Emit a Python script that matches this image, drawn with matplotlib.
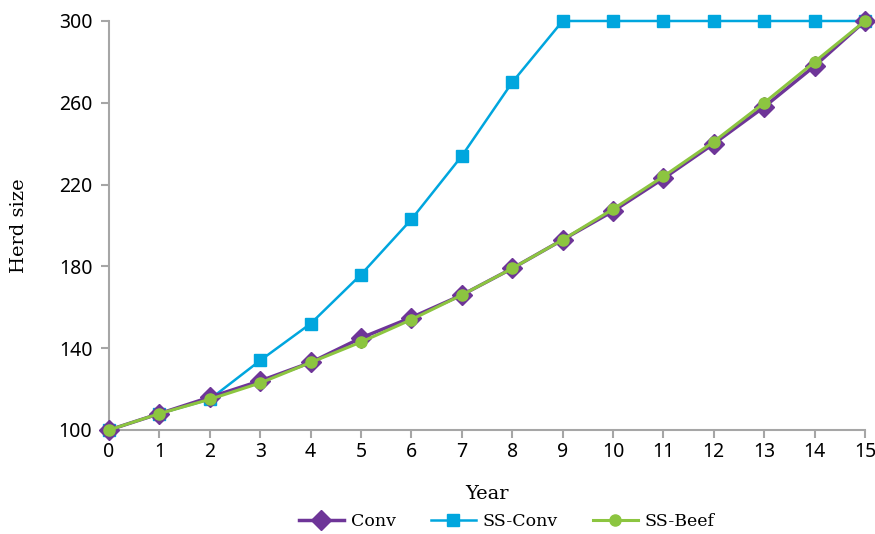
import matplotlib
matplotlib.use('Agg')
import matplotlib.pyplot as plt

# datos
years = list(range(16))
conv = [100, 108, 116, 124, 133, 145, 155, 166, 179, 193, 207, 223, 240, 258, 278, 300]
ss_conv = [100, 108, 115, 134, 152, 176, 203, 234, 270, 300, 300, 300, 300, 300, 300, 300]
ss_beef = [100, 108, 115, 123, 133, 143, 154, 166, 179, 193, 208, 224, 241, 260, 280, 300]
y_ticks = [100, 140, 180, 220, 260, 300]

c_conv = '#6E3598'
c_ssconv = '#00A6DE'
c_beef = '#8CC540'

fig = plt.figure(figsize=(8.75, 5.34), dpi=100)
ax = fig.add_axes([0.1246, 0.1948, 0.864, 0.7659])

ax.plot(years, conv, color=c_conv, lw=2.5, marker='D', markersize=10.5,
        label='Conv', zorder=3)
ax.plot(years, ss_conv, color=c_ssconv, lw=1.8, marker='s', markersize=9,
        label='SS-Conv', zorder=2)
ax.plot(years, ss_beef, color=c_beef, lw=2.2, marker='o', markersize=8,
        label='SS-Beef', zorder=4)

ax.set_xlim(0, 15)
ax.set_ylim(100, 300)
ax.set_xticks(years)
ax.set_yticks(y_ticks)
for side in ('top', 'right'):
    ax.spines[side].set_visible(False)
for side in ('left', 'bottom'):
    ax.spines[side].set_color('#A6A6A6')
    ax.spines[side].set_linewidth(1.5)
ax.tick_params(axis='both', colors='#A6A6A6', width=1.5, length=6,
               labelcolor='black', labelsize=14)
for lbl in ax.get_xticklabels() + ax.get_yticklabels():
    lbl.set_family('Noto Sans')
ax.tick_params(axis='x', pad=3)
ax.tick_params(axis='y', pad=6)

ax.set_xlabel('Year', family='DejaVu Serif', fontsize=14, labelpad=16)
ax.set_ylabel('Herd size', family='DejaVu Serif', fontsize=14, labelpad=22)

ax.legend(loc='upper center', bbox_to_anchor=(0.526, -0.185), ncol=3,
          frameon=False, handlelength=2.6, columnspacing=2.0,
          prop={'family': 'DejaVu Serif', 'size': 12.5}, handletextpad=0.4,
          borderaxespad=0)

for line in ax.get_lines():
    line.set_clip_on(False)

fig.savefig('out.png', dpi=100)
